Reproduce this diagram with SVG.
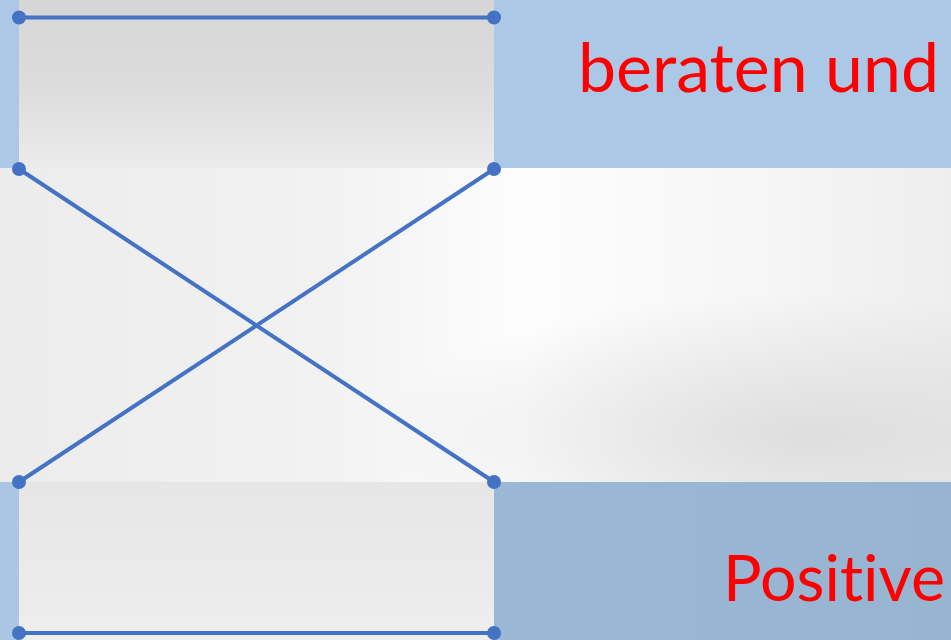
<svg xmlns="http://www.w3.org/2000/svg" width="951" height="640" viewBox="0 0 951 640">
  <defs>
    <linearGradient id="gTop" x1="0" y1="0" x2="0" y2="1">
      <stop offset="0" stop-color="#d6d6d6"/>
      <stop offset="0.5" stop-color="#dcdcdc"/>
      <stop offset="1" stop-color="#ececec"/>
    </linearGradient>
    <linearGradient id="gMid" x1="0" y1="0" x2="1" y2="0">
      <stop offset="0" stop-color="#ececec"/>
      <stop offset="0.35" stop-color="#f2f2f2"/>
      <stop offset="0.55" stop-color="#fdfdfd"/>
      <stop offset="0.8" stop-color="#f6f6f6"/>
      <stop offset="1" stop-color="#eeeeee"/>
    </linearGradient>
    <radialGradient id="gMidShade" cx="0.85" cy="0.85" r="0.45">
      <stop offset="0" stop-color="#d8d8d8" stop-opacity="0.8"/>
      <stop offset="1" stop-color="#d8d8d8" stop-opacity="0"/>
    </radialGradient>
    <linearGradient id="gBotL" x1="0" y1="0" x2="0" y2="1">
      <stop offset="0" stop-color="#e6e6e6"/>
      <stop offset="1" stop-color="#eeeeee"/>
    </linearGradient>
    <linearGradient id="gBotR" x1="0" y1="0" x2="1" y2="0">
      <stop offset="0" stop-color="#a6c4e2"/>
      <stop offset="0.4" stop-color="#9bb9d7"/>
      <stop offset="1" stop-color="#97b4d1"/>
    </linearGradient>
    <style>
      .conn { stroke: #4472c4; stroke-width: 4; fill: none; }
      .dot { fill: #4472c4; }
      .lbl { font-family: Lato, "Open Sans", sans-serif; fill: #ff0000; font-variant-ligatures: none; font-feature-settings: "liga" 0, "clig" 0; }
    </style>
  </defs>

  <!-- background -->
  <rect x="0" y="0" width="951" height="640" fill="#abc9e7"/>
  <rect x="0" y="482" width="951" height="158" fill="url(#gBotR)"/>
  <rect x="0" y="482" width="19" height="158" fill="#a9c6e4"/>
  <rect x="19" y="0" width="475" height="168" fill="url(#gTop)"/>
  <rect x="0" y="168" width="951" height="314" fill="url(#gMid)"/>
  <rect x="0" y="168" width="951" height="314" fill="url(#gMidShade)"/>
  <rect x="19" y="482" width="475" height="158" fill="url(#gBotL)"/>

  <!-- connectors -->
  <g id="connectors">
    <line class="conn" x1="19" y1="17.5" x2="494" y2="17.5"/>
    <line class="conn" x1="19" y1="169" x2="494" y2="482"/>
    <line class="conn" x1="494" y1="169" x2="19" y2="482"/>
    <line class="conn" x1="19" y1="633" x2="494" y2="633"/>
  </g>

  <g id="dots">
    <circle class="dot" cx="19" cy="17.5" r="7"/>
    <circle class="dot" cx="494" cy="17.5" r="7"/>
    <circle class="dot" cx="19" cy="169" r="7"/>
    <circle class="dot" cx="494" cy="169" r="7"/>
    <circle class="dot" cx="19" cy="482" r="7"/>
    <circle class="dot" cx="494" cy="482" r="7"/>
    <circle class="dot" cx="19" cy="633" r="7"/>
    <circle class="dot" cx="494" cy="633" r="7"/>
  </g>

  <g id="label-top">
    <text class="lbl" x="578" y="92" font-size="68" textLength="361" lengthAdjust="spacingAndGlyphs">beraten und</text>
  </g>
  <g id="label-bottom">
    <text class="lbl" x="723" y="601" font-size="63" textLength="222" lengthAdjust="spacingAndGlyphs">Positive</text>
  </g>
</svg>
